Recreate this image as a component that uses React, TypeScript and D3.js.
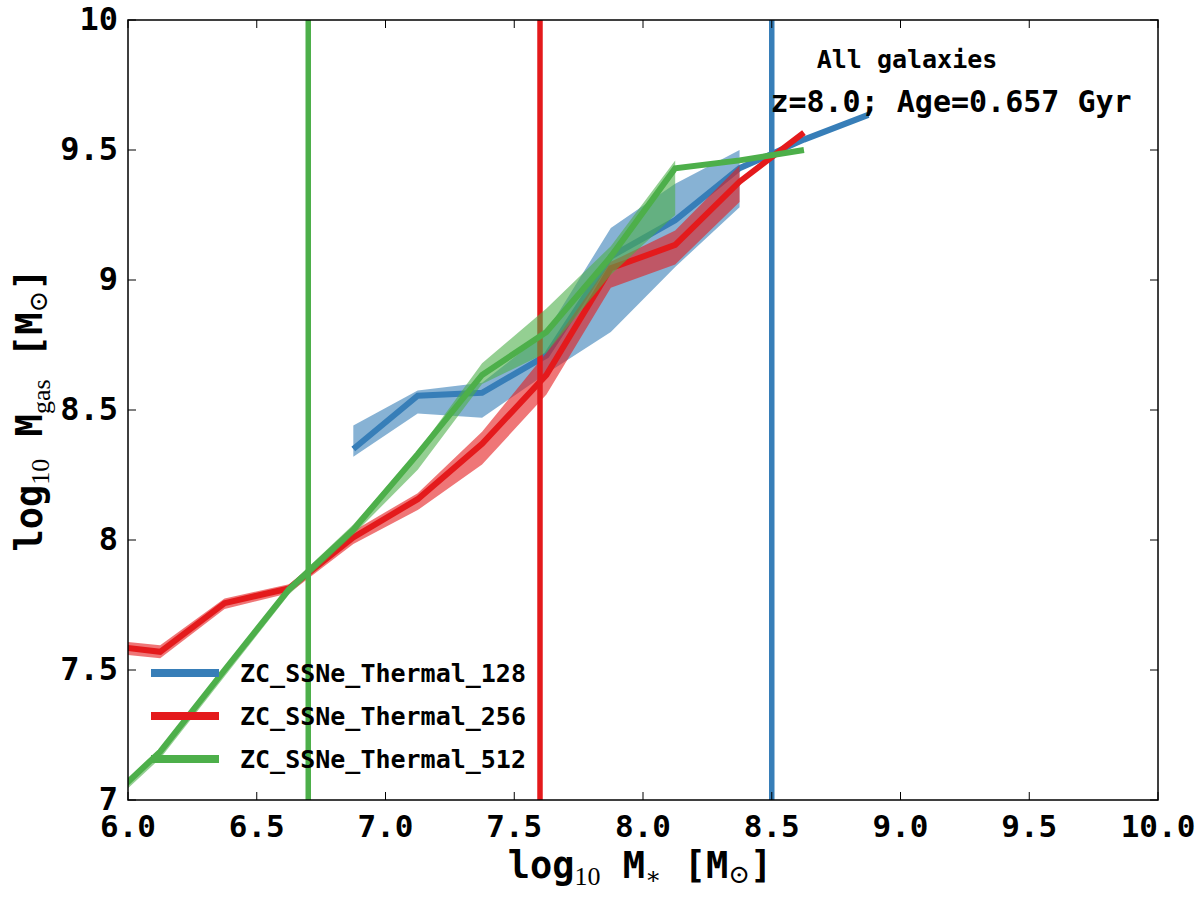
import React from 'react';
import * as d3 from 'd3';

// stellar-mass bin centres (log10 M*)
const massBins = [5.875, 6.125, 6.375, 6.625, 6.875, 7.125, 7.375, 7.625, 7.875, 8.125, 8.375, 8.625, 8.875];

// median log10 Mgas per bin, plus the shaded spread (null = empty bin)
const med128 = [null, null, null, null, 8.35, 8.555, 8.566, 8.71, 9.09, 9.23, 9.43, 9.54, 9.635];
const lo128 = [null, null, null, null, 8.32, 8.487, 8.47, 8.64, 8.8, 9.05, 9.28, null, null];
const hi128 = [null, null, null, null, 8.44, 8.575, 8.605, 8.8, 9.2, 9.37, 9.5, null, null];

const med256 = [7.6, 7.57, 7.757, 7.814, 8.01, 8.157, 8.37, 8.635, 9.045, 9.135, 9.378, 9.567, null];
const lo256 = [7.57, 7.545, 7.735, 7.795, 7.985, 8.115, 8.29, 8.56, 8.97, 9.06, 9.3, null, null];
const hi256 = [7.62, 7.595, 7.775, 7.83, 8.035, 8.18, 8.416, 8.72, 9.07, 9.19, 9.44, null, null];

const med512 = [6.954, 7.186, 7.5, 7.81, 8.04, 8.33, 8.635, 8.8, 9.09, 9.43, 9.46, 9.5, null];
const lo512 = [6.93, 7.16, 7.475, 7.79, 8.02, 8.27, 8.6, 8.72, 9.02, 9.25, null, null, null];
const hi512 = [6.97, 7.19, 7.51, 7.825, 8.06, 8.34, 8.68, 8.89, 9.13, 9.46, null, null, null];

// resolution limit of each run
const massLimits = [8.5, 7.6, 6.7];

const runNames = ['ZC_SSNe_Thermal_128', 'ZC_SSNe_Thermal_256', 'ZC_SSNe_Thermal_512'];
const runColors = ['#377eb8', '#e41a1c', '#4daf4a'];

const xTicks = [6.0, 6.5, 7.0, 7.5, 8.0, 8.5, 9.0, 9.5, 10.0];
const yTicks = [7, 7.5, 8, 8.5, 9, 9.5, 10];

const runs = [
  { med: med128, lo: lo128, hi: hi128 },
  { med: med256, lo: lo256, hi: hi256 },
  { med: med512, lo: lo512, hi: hi512 },
];

const W = 1200, H = 900;
const margin = { top: 20, right: 42, bottom: 100, left: 128 };
const mono = '"DejaVu Sans Mono", monospace';
const serif = '"Liberation Serif", "DejaVu Serif", serif';

export default function App() {
  const x = d3.scaleLinear().domain([6, 10]).range([margin.left, W - margin.right]);
  const y = d3.scaleLinear().domain([7, 10]).range([H - margin.bottom, margin.top]);
  const x0 = margin.left, x1 = W - margin.right, y0 = margin.top, y1 = H - margin.bottom;

  const line = d3
    .line<number>()
    .defined((_, i, arr) => arr[i] != null)
    .x((_, i) => x(massBins[i]))
    .y((d) => y(d));

  const band = (lo: (number | null)[], hi: (number | null)[]) =>
    d3
      .area<number>()
      .defined((_, i) => lo[i] != null && hi[i] != null)
      .x((_, i) => x(massBins[i]))
      .y0((_, i) => y(lo[i] as number))
      .y1((_, i) => y(hi[i] as number))(lo as number[]);

  const tickLen = 8;

  return (
    <svg width={W} height={H} style={{ position: 'absolute', left: 0, top: 0, background: '#fff' }}>
      <defs>
        <clipPath id="plot">
          <rect x={x0} y={y0} width={x1 - x0} height={y1 - y0} />
        </clipPath>
      </defs>

      <g clipPath="url(#plot)">
        {runs.map((r, k) => (
          <g key={k}>
            <path d={band(r.lo, r.hi) || ''} fill={runColors[k]} fillOpacity={0.6} stroke="none" />
            <path
              d={line(r.med as number[]) || ''}
              fill="none"
              stroke={runColors[k]}
              strokeWidth={6}
              strokeLinejoin="miter"
            />
            <line x1={x(massLimits[k])} x2={x(massLimits[k])} y1={y0} y2={y1} stroke={runColors[k]} strokeWidth={5.5} />
          </g>
        ))}
      </g>

      {/* frame and inward ticks */}
      <rect x={x0} y={y0} width={x1 - x0} height={y1 - y0} fill="none" stroke="#000" strokeWidth={1.5} />
      {xTicks.map((t) => (
        <g key={'x' + t}>
          <line x1={x(t)} x2={x(t)} y1={y1} y2={y1 - tickLen} stroke="#000" strokeWidth={1} />
          <line x1={x(t)} x2={x(t)} y1={y0} y2={y0 + tickLen} stroke="#000" strokeWidth={1} />
          <text x={x(t)} y={y1 + 37} textAnchor="middle" fontFamily={mono} fontWeight="bold" fontSize={31}>
            {d3.format('.1f')(t)}
          </text>
        </g>
      ))}
      {yTicks.map((t) => (
        <g key={'y' + t}>
          <line x1={x0} x2={x0 + tickLen} y1={y(t)} y2={y(t)} stroke="#000" strokeWidth={1} />
          <line x1={x1} x2={x1 - tickLen} y1={y(t)} y2={y(t)} stroke="#000" strokeWidth={1} />
          <text x={x0 - 10} y={y(t) + 10} textAnchor="end" fontFamily={mono} fontWeight="bold" fontSize={32}>
            {String(t)}
          </text>
        </g>
      ))}

      {/* axis titles */}
      <text x={640} y={878} textAnchor="middle" fontFamily={mono} fontWeight="bold" fontSize={37}>
        log
        <tspan fontFamily={serif} fontWeight="normal" fontSize={26} dy={7}>10</tspan>
        <tspan dy={-7}> M</tspan>
        <tspan fontFamily={serif} fontWeight="normal" fontSize={24} dy={6}>∗</tspan>
        <tspan dy={-6}> [M</tspan>
        <tspan fontFamily={serif} fontWeight="normal" fontSize={26} dy={5}>⊙</tspan>
        <tspan dy={-5}>]</tspan>
      </text>
      <text
        transform={`translate(42,${(y0 + y1) / 2}) rotate(-90)`}
        textAnchor="middle"
        fontFamily={mono}
        fontWeight="bold"
        fontSize={37}
      >
        log
        <tspan fontFamily={serif} fontWeight="normal" fontSize={26} dy={7}>10</tspan>
        <tspan dy={-7}> M</tspan>
        <tspan fontFamily={serif} fontWeight="normal" fontSize={26} dy={8}>gas</tspan>
        <tspan dy={-8}> [M</tspan>
        <tspan fontFamily={serif} fontWeight="normal" fontSize={26} dy={5}>⊙</tspan>
        <tspan dy={-5}>]</tspan>
      </text>

      {/* annotation */}
      <text x={907} y={68} textAnchor="middle" fontFamily={mono} fontWeight="bold" fontSize={25}>
        All galaxies
      </text>
      <text x={951} y={112} textAnchor="middle" fontFamily={mono} fontWeight="bold" fontSize={30}>
        z=8.0; Age=0.657 Gyr
      </text>

      {/* legend */}
      {runNames.map((name, k) => (
        <g key={name}>
          <line x1={151} x2={219} y1={673 + k * 43} y2={673 + k * 43} stroke={runColors[k]} strokeWidth={8} />
          <text x={240} y={673 + k * 43 + 9} fontFamily={mono} fontWeight="bold" fontSize={25}>
            {name}
          </text>
        </g>
      ))}
    </svg>
  );
}
